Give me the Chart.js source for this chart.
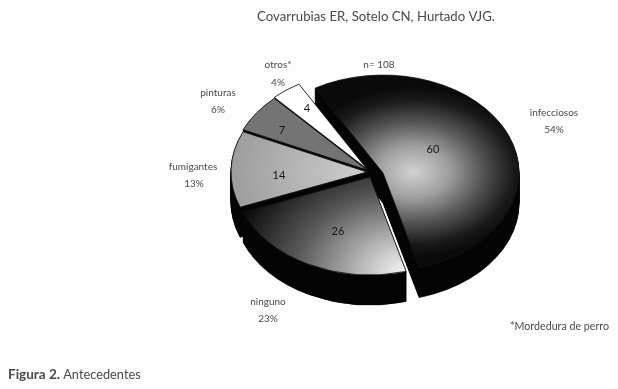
<!DOCTYPE html>
<html>
<head>
<meta charset="utf-8">
<title>Antecedentes</title>
<script src="https://cdn.jsdelivr.net/npm/chart.js@4/dist/chart.umd.min.js"></script>
<style>
  html, body { margin: 0; padding: 0; background: #fdfdfd; }
  canvas { display: block; }
</style>
</head>
<body>
<canvas id="chart" width="618" height="389"></canvas>
<script>
// data
var categories = ["infecciosos", "ninguno", "fumigantes", "pinturas", "otros*"];
var counts = [60, 26, 14, 7, 4];
var percents = [54, 23, 13, 6, 4];
var sampleLabel = "n= 108";
var heading = "Covarrubias ER, Sotelo CN, Hurtado VJG.";
var footnote = "*Mordedura de perro";
var captionBold = "Figura 2.";
var captionText = " Antecedentes";

// look of the fake 3D pie
var squash = 0.72;
var depth = 30;
var inkColor = "#4a4a4a";
var shifts = [[16, 1], [3, 5], [0, 0], [0, -2], [0, -3]];
var labelSpots = [[554, 113], [268, 302], [193, 167], [218, 93], [278, 65]];
var percentSpots = [[554, 130], [268, 319], [194, 184], [218, 110], [278, 83]];
var countSpots = [[433, 149], [338, 231], [279, 175], [282, 130], [307, 108]];

function centerY(chart) {
	return (chart.chartArea.top + chart.chartArea.bottom) / 2;
}

function radial(chart, x, y, r, stops) {
	var cy = centerY(chart);
	var g = chart.ctx.createRadialGradient(x, cy + (y - cy) / squash, 0, x, cy + (y - cy) / squash, r);
	stops.forEach(function(s) { g.addColorStop(s[0], s[1]); });
	return g;
}

function sliceFill(context) {
	var chart = context.chart;
	if (!chart.chartArea) return "#888";
	switch (context.dataIndex) {
		case 0:
			return radial(chart, 413, 172, 118, [[0, "#d2d2d2"], [0.3, "#a0a0a0"], [0.6, "#525252"], [0.85, "#1a1a1a"], [1, "#0a0a0a"]]);
		case 1:
			return radial(chart, 405, 272, 180, [[0, "#f6f6f6"], [0.25, "#b8b8b8"], [0.6, "#5a5a5a"], [1, "#0a0a0a"]]);
		case 2:
			return radial(chart, 367, 172, 140, [[0, "#cfcfcf"], [1, "#9c9c9c"]]);
		case 3:
			return "#747474";
		default:
			return "#ffffff";
	}
}

var pie3d = {
	id: "pie3d",
	// move the slices apart, the library already worked out the angles
	afterDatasetsUpdate: function(chart) {
		chart.getDatasetMeta(0).data.forEach(function(arc, i) {
			arc.x += shifts[i][0];
			arc.y += shifts[i][1] / squash;
		});
	},
	beforeDatasetsDraw: function(chart) {
		var ctx = chart.ctx, cy = centerY(chart);
		ctx.save();
		ctx.translate(0, cy);
		ctx.scale(1, squash);
		ctx.translate(0, -cy);
		// side walls: stack black copies of each arc under the top faces
		chart.getDatasetMeta(0).data.forEach(function(arc) {
			var own = arc.options;
			arc.options = Object.assign({}, own, { backgroundColor: "#050505", borderColor: "#050505" });
			for (var d = depth; d > 0; d--) {
				ctx.save();
				ctx.translate(0, d / squash);
				arc.draw(ctx);
				ctx.restore();
			}
			arc.options = own;
		});
	},
	afterDatasetsDraw: function(chart) {
		var ctx = chart.ctx;
		ctx.restore();

		ctx.save();
		ctx.textBaseline = "middle";
		ctx.textAlign = "center";
		categories.forEach(function(name, i) {
			ctx.fillStyle = inkColor;
			ctx.font = "10px Lato";
			ctx.fillText(name, labelSpots[i][0], labelSpots[i][1]);
			ctx.fillText(percents[i] + "%", percentSpots[i][0], percentSpots[i][1]);
			ctx.fillStyle = "#161616";
			ctx.font = "11px Lato";
			ctx.fillText(String(counts[i]), countSpots[i][0], countSpots[i][1]);
		});
		ctx.fillStyle = inkColor;
		ctx.font = "10px Lato";
		ctx.fillText(sampleLabel, 379, 65);
		ctx.font = "13.2px Lato";
		ctx.fillText(heading, 376, 17);
		ctx.textAlign = "left";
		ctx.font = "10.7px Lato";
		ctx.fillText(footnote, 510, 327);
		ctx.font = "bold 13.5px Lato";
		ctx.fillText(captionBold, 8, 375);
		var w = ctx.measureText(captionBold).width;
		ctx.font = "12.8px Lato";
		ctx.fillText(captionText, 8 + w, 375);
		ctx.restore();
	}
};

new Chart(document.getElementById("chart"), {
	type: "pie",
	plugins: [pie3d],
	data: {
		labels: categories,
		datasets: [{
			data: counts,
			backgroundColor: sliceFill,
			borderColor: "#111111",
			borderWidth: 1,
			clip: false
		}]
	},
	options: {
		responsive: false,
		animation: false,
		rotation: -30,
		radius: 136,
		layout: { padding: { left: 200, right: 84, top: 0, bottom: 45 } },
		plugins: { legend: { display: false }, tooltip: { enabled: false } }
	}
});
</script>
</body>
</html>
